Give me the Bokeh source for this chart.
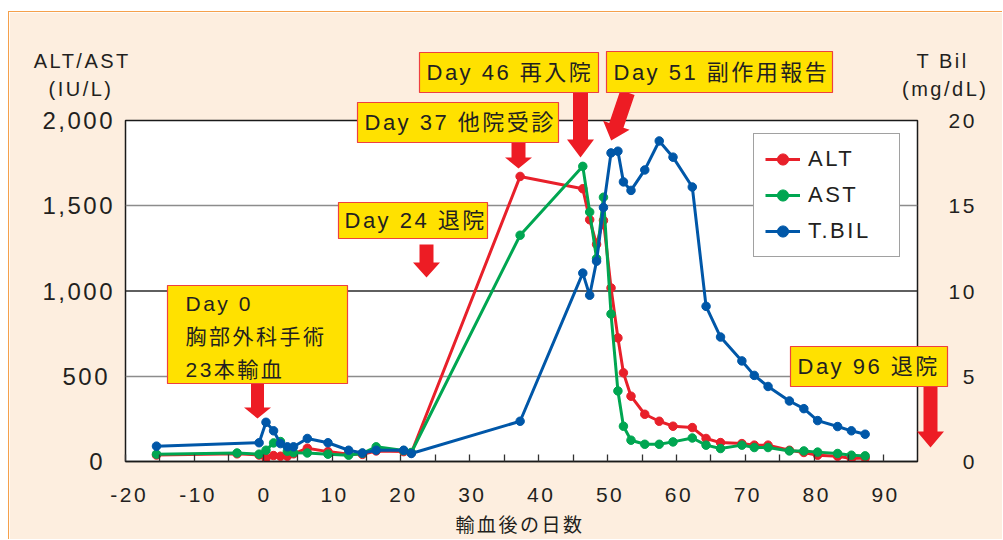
import math
from bokeh.plotting import figure
from bokeh.models import (Range1d, LinearAxis, FixedTicker, NumeralTickFormatter,
                          Legend, LegendItem, Span, ColumnDataSource, GridBox)
from bokeh.core.properties import value
from bokeh.embed import file_html
from bokeh.resources import INLINE

# ---------------- data ----------------
alt_days = [-15.5, -3.8, -0.6, 0.4, 1.5, 2.5, 3.5, 4.4, 6.4, 9.4, 12.4, 14.4, 16.4, 20.4, 21.5,
            37.3, 46.4, 47.4, 48.4, 49.4, 50.5, 51.5, 52.3, 53.4, 55.4, 57.5, 59.5, 62.3, 64.3,
            66.4, 69.5, 71.3, 73.3, 76.4, 78.5, 80.5, 83.4, 85.4, 87.4]
alt_vals = [38, 45, 38, 20, 35, 31, 31, 45, 78, 58, 42, 42, 62, 58, 50,
            1672, 1600, 1418, 1274, 1414, 1018, 725, 520, 383, 277, 236, 207, 199, 135,
            111, 105, 96, 96, 66, 53, 37, 31, 17, 21]
ast_days = list(alt_days)
ast_vals = [43, 50, 43, 66, 109, 117, 60, 52, 50, 43, 37, 48, 86, 64, 53,
            1327, 1731, 1463, 1190, 1550, 865, 414, 207, 125, 101, 101, 115, 138, 96,
            76, 96, 82, 82, 62, 62, 55, 47, 37, 33]
tbil_days = [-15.5, -0.6, 0.4, 1.5, 2.5, 3.5, 4.4, 6.4, 9.4, 12.4, 14.4, 16.4, 20.4, 21.5,
             37.3, 46.4, 47.4, 48.4, 49.4, 50.5, 51.5, 52.3, 53.4, 55.4, 57.5, 59.5, 62.3, 64.3,
             66.4, 69.5, 71.3, 73.3, 76.4, 78.5, 80.5, 83.4, 85.4, 87.4]
tbil_vals = [0.9, 1.1, 2.3, 1.8, 1.05, 0.86, 0.86, 1.35, 1.1, 0.66, 0.5, 0.66, 0.66, 0.47,
             2.36, 11.05, 9.75, 11.75, 14.9, 18.1, 18.2, 16.4, 15.9, 17.1, 18.8, 17.85, 16.1, 9.1,
             7.3, 5.9, 5.05, 4.4, 3.55, 3.1, 2.4, 2.05, 1.8, 1.6]

x_major_ticks = [-20, -10, 0, 10, 20, 30, 40, 50, 60, 70, 80, 90]
x_minor_ticks = [-15, -5, 5, 15, 25, 35, 45, 55, 65, 75, 85]
left_ticks = [0, 500, 1000, 1500, 2000]
right_ticks = [0, 5, 10, 15, 20]

note_texts = ["Day 0\n胸部外科手術\n23本輸血", "Day 24 退院", "Day 37 他院受診",
              "Day 46 再入院", "Day 51 副作用報告", "Day 96 退院"]
title_texts = ["ALT/AST\n(IU/L)", "T Bil\n(mg/dL)", "輸血後の日数"]

# ---------------- styling / layout ----------------
RED, GREEN, BLUE = "#E8202A", "#00A651", "#0057A8"
ARROW_RED = "#ED1C24"
YELLOW = "#FFE100"
PEACH = "#FDEEDF"
TXT = "#231F20"
FONT = "Liberation Sans, Noto Sans CJK JP"
JFONT = "Noto Sans CJK JP"

W, H = 993, 527
OX, OY = 9, 12                            # figure origin on the page
FX0, FX1, FY0, FY1 = 125, 917, 120, 461   # plot frame on the page

p = figure(width=W, height=H, title=None,
           x_range=Range1d(-20, 95), y_range=Range1d(0, 2000),
           output_backend="svg", toolbar_location=None,
           min_border_left=FX0 - OX, min_border_right=W - (FX1 - OX),
           min_border_top=FY0 - OY, min_border_bottom=H - (FY1 - OY))
p.frame_align = False
p.border_fill_color = PEACH
p.background_fill_color = "white"
p.outline_line_color = "#1a1a1a"
p.outline_line_width = 1.5
p.extra_y_ranges = {"bil": Range1d(0, 20)}

# grid
p.xgrid.visible = False
p.ygrid.ticker = FixedTicker(ticks=[500, 1500])
p.ygrid.grid_line_color = "#8C8C8C"
p.ygrid.grid_line_width = 1.5
p.add_layout(Span(location=1000, dimension="width", line_color="#2a2a2a", line_width=1.5,
                  level="underlay"))

# bottom axis
xa = p.xaxis[0]
xa.ticker = FixedTicker(ticks=x_major_ticks, minor_ticks=x_minor_ticks)
xa.major_label_overrides = {t: str(t) for t in x_major_ticks if t < 0}
xa.major_tick_in = 7
xa.major_tick_out = 0
xa.minor_tick_in = 7
xa.minor_tick_out = 0
xa.major_tick_line_color = "#333333"
xa.minor_tick_line_color = "#333333"
xa.major_tick_line_width = 1.3
xa.minor_tick_line_width = 1.3
xa.axis_line_color = "#1a1a1a"
xa.axis_line_width = 1.5
xa.major_label_text_font = FONT
xa.major_label_text_font_size = "21px"
xa.major_label_text_color = TXT
xa.major_label_standoff = 26

# left axis
ya = p.yaxis[0]
ya.ticker = FixedTicker(ticks=left_ticks)
ya.formatter = NumeralTickFormatter(format="0,0")
ya.major_tick_in = 0
ya.major_tick_out = 0
ya.minor_tick_in = 0
ya.minor_tick_out = 0
ya.axis_line_color = None
ya.major_label_text_font = FONT
ya.major_label_text_font_size = "24px"
ya.major_label_text_color = TXT
ya.major_label_standoff = 23

# right axis (figure space keeps single digits right-aligned)
ra = LinearAxis(y_range_name="bil", ticker=FixedTicker(ticks=right_ticks))
ra.major_tick_in = 0
ra.major_tick_out = 0
ra.minor_tick_in = 0
ra.minor_tick_out = 0
ra.axis_line_color = None
ra.major_label_text_font = FONT
ra.major_label_text_font_size = "21px"
ra.major_label_text_color = TXT
ra.major_label_overrides = {0: "\u20070", 5: "\u20075"}
ra.major_label_standoff = 31
p.add_layout(ra, "right")

# series
rends = {}
for name, xs, ys, col, rng in [("ALT", alt_days, alt_vals, RED, "default"),
                               ("AST", ast_days, ast_vals, GREEN, "default"),
                               ("T.BIL", tbil_days, tbil_vals, BLUE, "bil")]:
    src = ColumnDataSource(dict(x=xs, y=ys))
    ln = p.line("x", "y", source=src, line_color=col, line_width=3, y_range_name=rng)
    sc = p.scatter("x", "y", source=src, size=8.5, fill_color=col, line_color=col,
                   y_range_name=rng)
    rends[name] = [ln, sc]

legend = Legend(items=[LegendItem(label=k, renderers=v) for k, v in rends.items()],
                location=(628, 204))
legend.label_text_font = FONT
legend.label_text_font_size = "22px"
legend.label_text_color = TXT
legend.border_line_color = "#444444"
legend.border_line_width = 1.3
legend.background_fill_color = "white"
legend.background_fill_alpha = 1
legend.padding = 11
legend.spacing = 8
legend.margin = 0
legend.label_height = 28
legend.glyph_height = 28
legend.glyph_width = 35
legend.label_width = 80
legend.label_standoff = 8
p.add_layout(legend)

# ---------------- overlay canvas for call-outs and titles (page-pixel space) ----------------
ov = figure(width=W, height=H, title=None, x_range=Range1d(0, W), y_range=Range1d(H, 0),
            x_axis_type=None, y_axis_type=None, output_backend="svg", toolbar_location=None,
            min_border=0, min_border_left=0, min_border_right=0, min_border_top=0,
            min_border_bottom=0)
ov.frame_align = False
ov.outline_line_color = None
ov.background_fill_alpha = 0
ov.border_fill_alpha = 0


def ox(px):
    return px - OX


def oy(py):
    return py - OY


note_boxes = [(167, 285, 347, 383), (338, 202, 487, 238), (357, 102, 558, 142),
              (419, 52, 598, 92), (606, 51, 832, 92), (790, 346, 947, 386)]
note_text_pos = [(185, 336), (344, 220), (364, 122), (426, 72), (613, 72), (797, 366)]
note_sizes = ["21px", "22px", "22px", "22px", "22px", "22px"]

arrows = [(257, 383, 257, 418, 13, 27, 11),
          (426, 244, 426, 277, 14, 27, 15),
          (518, 142, 518, 168, 14, 27, 11),
          (580, 92, 580, 157, 15, 27, 18),
          (627, 92, 610.7, 140, 15, 28, 16),
          (930, 386, 930, 447, 14, 27, 16)]


def arrow_poly(x0, y0, x1, y1, sw, hw, hh):
    L = math.hypot(x1 - x0, y1 - y0)
    ux, uy = (x1 - x0) / L, (y1 - y0) / L
    nx, ny = -uy, ux
    bx, by = x1 - ux * hh, y1 - uy * hh
    pts = [(x0 + nx * sw / 2, y0 + ny * sw / 2), (bx + nx * sw / 2, by + ny * sw / 2),
           (bx + nx * hw / 2, by + ny * hw / 2), (x1, y1),
           (bx - nx * hw / 2, by - ny * hw / 2), (bx - nx * sw / 2, by - ny * sw / 2),
           (x0 - nx * sw / 2, y0 - ny * sw / 2)]
    return [ox(a) for a, b in pts], [oy(b) for a, b in pts]


polys = [arrow_poly(*a) for a in arrows]
ov.patches(xs=[q[0] for q in polys], ys=[q[1] for q in polys],
           fill_color=ARROW_RED, line_color=None)

ov.quad(left=[ox(b[0]) for b in note_boxes], right=[ox(b[2]) for b in note_boxes],
        top=[oy(b[1]) for b in note_boxes], bottom=[oy(b[3]) for b in note_boxes],
        fill_color=YELLOW, line_color="#EE4040", line_width=1.2)

note_src = ColumnDataSource(dict(x=[ox(t[0]) for t in note_text_pos],
                                 y=[oy(t[1]) for t in note_text_pos],
                                 text=note_texts, fs=note_sizes))
ov.text(x="x", y="y", text="text", source=note_src, text_align="left", text_baseline="middle",
        text_font=value(FONT), text_font_size="fs", text_color=TXT, text_line_height=1.42)

title_pos = [(73, 49), (936, 49)]
ov.text(x=[ox(t[0]) for t in title_pos], y=[oy(t[1]) for t in title_pos],
        text=title_texts[:2], text_align="center", text_baseline="top",
        text_font=value(FONT), text_font_size=value("20px"), text_color=TXT,
        text_line_height=1.3)
ov.text(x=[ox(512)], y=[oy(523)], text=title_texts[2:], text_align="center",
        text_baseline="middle", text_font=value(JFONT), text_font_size=value("19px"),
        text_color=TXT)

layout = GridBox(children=[(p, 0, 0), (ov, 0, 0)])
layout.styles = {"border-top": "1px solid #F5A04B", "border-left": "1px solid #F5A04B",
                 "margin-left": "8px", "margin-top": "11px", "letter-spacing": "2.5px"}

open("out.html", "w").write(file_html(layout, INLINE))
